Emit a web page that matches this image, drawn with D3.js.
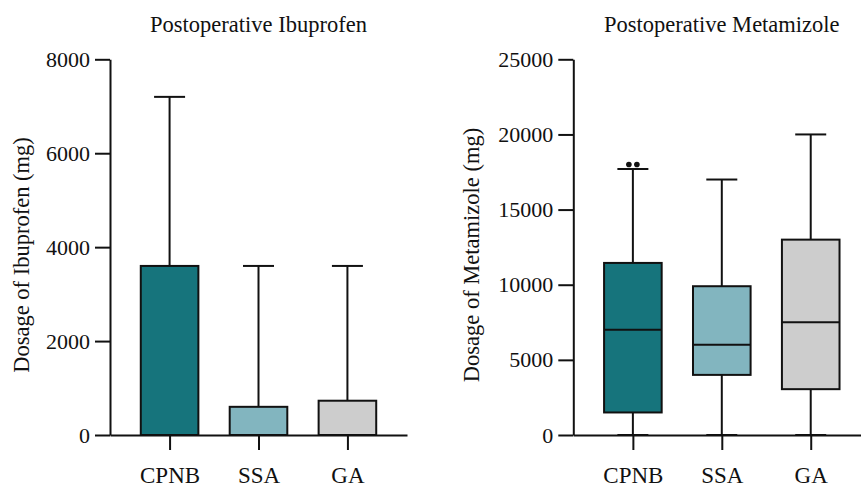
<!DOCTYPE html>
<html>
<head>
<meta charset="utf-8">
<script src="https://cdn.jsdelivr.net/npm/d3@7/dist/d3.min.js"></script>
<style>
  body { margin: 0; background: #fff; }
  svg text { font-family: "Liberation Serif", "Times New Roman", "DejaVu Serif", serif !important; fill: #111; }
</style>
</head>
<body>
<svg width="861" height="487"></svg>
<script>
var width = 861, height = 487;
var serif = "'Liberation Serif', 'Times New Roman', 'DejaVu Serif', serif";

// groups
var groups = ["CPNB", "SSA", "GA"];
var colors = ["#16747c", "#82b5bf", "#cdcdcd"];

// Ibuprofen (mg): min, q1, median, q3, max
var ibuMin = [0, 0, 0];
var ibuQ1 = [0, 0, 0];
var ibuMed = [0, 0, 0];
var ibuQ3 = [3600, 600, 730];
var ibuMax = [7200, 3600, 3600];
var ibuOut = [[], [], []];
var ibuTicks = [0, 2000, 4000, 6000, 8000];

// Metamizole (mg)
var metMin = [0, 0, 0];
var metQ1 = [1500, 4000, 3050];
var metMed = [7000, 6000, 7500];
var metQ3 = [11450, 9900, 13000];
var metMax = [17700, 17000, 20000];
var metOut = [[18000, 18000], [], []];
var metTicks = [0, 5000, 10000, 15000, 20000, 25000];

var svg = d3.select("svg");

function panel(opt) {
  var g = svg.append("g").attr("transform", "translate(" + opt.left + ",0)");
  var y = d3.scaleLinear().domain([0, opt.max]).range([435, 59.3]);
  var x = d3.scalePoint().domain(groups).range([0, 297]).padding(0.67);
  var boxW = 57.6, capW = 31;

  var rows = groups.map(function(d, i) {
    return { g: d, c: colors[i], min: opt.min[i], q1: opt.q1[i], med: opt.med[i],
             q3: opt.q3[i], max: opt.maxv[i], out: opt.out[i] };
  });

  var b = g.selectAll(".box").data(rows).enter().append("g")
    .attr("transform", function(d) { return "translate(" + x(d.g) + ",0)"; });

  // whiskers
  b.append("line").attr("x1", 0).attr("x2", 0)
    .attr("y1", function(d) { return y(d.q3); })
    .attr("y2", function(d) { return y(d.max); })
    .attr("stroke", "#111").attr("stroke-width", 2);
  b.append("line").attr("x1", 0).attr("x2", 0)
    .attr("y1", function(d) { return y(d.q1); })
    .attr("y2", function(d) { return y(d.min); })
    .attr("stroke", "#111").attr("stroke-width", 2);
  b.append("line").attr("x1", -capW / 2).attr("x2", capW / 2)
    .attr("y1", function(d) { return y(d.max); })
    .attr("y2", function(d) { return y(d.max); })
    .attr("stroke", "#111").attr("stroke-width", 2);
  b.append("line").attr("x1", -capW / 2).attr("x2", capW / 2)
    .attr("y1", function(d) { return y(d.min); })
    .attr("y2", function(d) { return y(d.min); })
    .attr("stroke", "#111").attr("stroke-width", 2);

  b.append("rect")
    .attr("x", -boxW / 2).attr("width", boxW)
    .attr("y", function(d) { return y(d.q3); })
    .attr("height", function(d) { return y(d.q1) - y(d.q3); })
    .attr("fill", function(d) { return d.c; })
    .attr("stroke", "#111").attr("stroke-width", 2);
  b.append("line").attr("x1", -boxW / 2).attr("x2", boxW / 2)
    .attr("y1", function(d) { return y(d.med); })
    .attr("y2", function(d) { return y(d.med); })
    .attr("stroke", "#111").attr("stroke-width", 2);

  b.selectAll("circle").data(function(d) { return d.out; }).enter().append("circle")
    .attr("cx", function(d, i, n) { return (i - (n.length - 1) / 2) * 8; })
    .attr("cy", function(d) { return y(d); })
    .attr("r", 2.8).attr("fill", "#111");

  // axes
  var ya = g.append("g")
    .call(d3.axisLeft(y).tickValues(opt.ticks).tickFormat(d3.format("d"))
      .tickSize(15).tickPadding(5).tickSizeOuter(0));
  ya.attr("font-family", serif);
  ya.select(".domain").attr("stroke", "#111").attr("stroke-width", 2);
  ya.selectAll(".tick line").attr("stroke", "#111").attr("stroke-width", 2);
  ya.selectAll("text").attr("font-size", "22px").attr("fill", "#111");

  var xa = g.append("g").attr("transform", "translate(0,435)")
    .call(d3.axisBottom(x).tickSize(15).tickPadding(17).tickSizeOuter(0));
  xa.attr("font-family", serif);
  xa.select(".domain").attr("stroke", "#111").attr("stroke-width", 2);
  xa.selectAll(".tick line").attr("stroke", "#111").attr("stroke-width", 2);
  xa.selectAll("text").attr("font-size", "23px").attr("fill", "#111");

  g.append("text").attr("x", x("SSA")).attr("y", 32).attr("font-family", serif)
    .attr("text-anchor", "middle").attr("font-size", "22.5px").text(opt.title);

  g.append("text").attr("transform", "translate(" + (-opt.labelOff) + ",255) rotate(-90)")
    .attr("font-family", serif)
    .attr("text-anchor", "middle").attr("font-size", "22.5px").text(opt.ylabel);
}

panel({ left: 110, max: 8000, min: ibuMin, q1: ibuQ1, med: ibuMed, q3: ibuQ3, maxv: ibuMax,
        out: ibuOut, ticks: ibuTicks, title: "Postoperative Ibuprofen",
        ylabel: "Dosage of Ibuprofen (mg)", labelOff: 81 });
panel({ left: 573.3, max: 25000, min: metMin, q1: metQ1, med: metMed, q3: metQ3, maxv: metMax,
        out: metOut, ticks: metTicks, title: "Postoperative Metamizole",
        ylabel: "Dosage of Metamizole (mg)", labelOff: 94 });
</script>
</body>
</html>
